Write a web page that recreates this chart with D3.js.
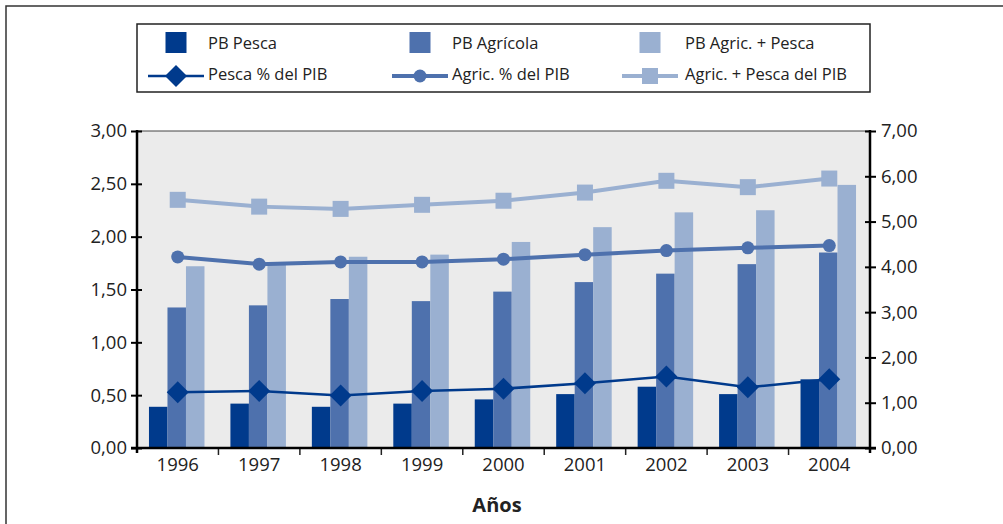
<!DOCTYPE html>
<html><head><meta charset="utf-8">
<script src="https://cdn.jsdelivr.net/npm/d3@7"></script>
<style>
html,body{margin:0;padding:0;background:#fff;}
svg text{font-family:"Open Sans",sans-serif;fill:#222;}
</style></head>
<body>
<script>
const years = ["1996","1997","1998","1999","2000","2001","2002","2003","2004"];
const pbPesca = [0.39,0.42,0.39,0.42,0.46,0.51,0.58,0.51,0.65];
const pbAgricola = [1.33,1.35,1.41,1.39,1.48,1.57,1.65,1.74,1.85];
const pbAgricPesca = [1.72,1.74,1.81,1.83,1.95,2.09,2.23,2.25,2.49];
const pescaPctPIB = [1.23,1.26,1.16,1.26,1.31,1.43,1.58,1.34,1.52];
const agricPctPIB = [4.22,4.06,4.11,4.11,4.17,4.27,4.36,4.42,4.47];
const agricPescaPctPIB = [5.48,5.33,5.28,5.37,5.46,5.64,5.90,5.76,5.95];
const leftTicks = [0,0.5,1,1.5,2,2.5,3];
const rightTicks = [0,1,2,3,4,5,6,7];
const barLabels = ["PB Pesca","PB Agrícola","PB Agric. + Pesca"];
const lineLabels = ["Pesca % del PIB","Agric. % del PIB","Agric. + Pesca del PIB"];
const xTitle = "Años";

const c1 = "#003a8c", c2 = "#4e71ad", c3 = "#9ab0d1";
const W = 1003, H = 524;
const L = 137, R = 870, T = 131, B = 448;

const svg = d3.select("body").append("svg").attr("width", W).attr("height", H);

// outer frame
svg.append("rect").attr("x", 6).attr("y", 6).attr("width", W + 20).attr("height", H + 20)
  .attr("fill", "none").attr("stroke", "#333").attr("stroke-width", 1.5);

const x = d3.scaleBand().domain(years).range([L, R]).paddingInner(0).paddingOuter(0);
const yL = d3.scaleLinear().domain([0, 3]).range([B, T]);
const yR = d3.scaleLinear().domain([0, 7]).range([B, T]);

// plot background
svg.append("rect").attr("x", L).attr("y", T).attr("width", R - L).attr("height", B - T)
  .attr("fill", "#ebebeb");
svg.append("line").attr("x1", L).attr("x2", R).attr("y1", T).attr("y2", T)
  .attr("stroke", "#444").attr("stroke-width", 1);

// bars
const bw = 18.5;
const series = [pbPesca, pbAgricola, pbAgricPesca];
const colors = [c1, c2, c3];
series.forEach((s, si) => {
  svg.append("g").selectAll("rect").data(s).join("rect")
    .attr("x", (d, i) => x(years[i]) + x.bandwidth() / 2 - 1.5 * bw + si * bw - 1)
    .attr("width", bw)
    .attr("y", d => yL(d))
    .attr("height", d => B - yL(d))
    .attr("fill", colors[si]);
});

const cx = i => x(years[i]) + x.bandwidth() / 2;
const lineGen = arr => d3.line().x((d, i) => cx(i)).y(d => yR(d))(arr);

// light square line
svg.append("path").attr("d", lineGen(agricPescaPctPIB)).attr("fill", "none")
  .attr("stroke", c3).attr("stroke-width", 4);
svg.append("g").selectAll("rect").data(agricPescaPctPIB).join("rect")
  .attr("x", (d, i) => cx(i) - 8).attr("y", d => yR(d) - 8)
  .attr("width", 16).attr("height", 16).attr("fill", c3);

// circle line
svg.append("path").attr("d", lineGen(agricPctPIB)).attr("fill", "none")
  .attr("stroke", c2).attr("stroke-width", 4);
svg.append("g").selectAll("circle").data(agricPctPIB).join("circle")
  .attr("cx", (d, i) => cx(i)).attr("cy", d => yR(d)).attr("r", 6.5).attr("fill", c2);

// diamond line
svg.append("path").attr("d", lineGen(pescaPctPIB)).attr("fill", "none")
  .attr("stroke", c1).attr("stroke-width", 2.5);
const dia = (px, py, r) => `M${px},${py - r}L${px + r},${py}L${px},${py + r}L${px - r},${py}Z`;
svg.append("g").selectAll("path").data(pescaPctPIB).join("path")
  .attr("d", (d, i) => dia(cx(i), yR(d), 11)).attr("fill", c1);

// axes
const fmt = d => d3.format(".2f")(d).replace(".", ",");
const axL = svg.append("g").attr("transform", `translate(${L},0)`)
  .call(d3.axisLeft(yL).tickValues(leftTicks).tickSize(6).tickFormat(fmt));
const axR = svg.append("g").attr("transform", `translate(${R},0)`)
  .call(d3.axisRight(yR).tickValues(rightTicks).tickSize(6).tickFormat(fmt));
[axL, axR].forEach(a => {
  a.select(".domain").remove();
  a.selectAll("text").attr("font-size", 18.5).style("font-family", "'Open Sans',sans-serif").attr("fill", "#333");
  a.selectAll(".tick line").attr("stroke", "#000").attr("stroke-width", 2);
});
axL.selectAll(".tick line").attr("x1", 5).attr("x2", -6);
axL.selectAll("text").attr("x", -10);
axR.selectAll(".tick line").attr("x1", -5).attr("x2", 6);
axR.selectAll("text").attr("x", 11);

svg.append("line").attr("x1", L).attr("x2", L).attr("y1", T - 1).attr("y2", B + 5)
  .attr("stroke", "#000").attr("stroke-width", 2.5);
svg.append("line").attr("x1", R).attr("x2", R).attr("y1", T - 1).attr("y2", B + 5)
  .attr("stroke", "#000").attr("stroke-width", 2.5);

// bottom axis
const axB = svg.append("g").attr("transform", `translate(0,${B})`)
  .call(d3.axisBottom(x).tickSize(0).tickPadding(10));
axB.select(".domain").remove();
axB.selectAll("text").attr("font-size", 18.5).style("font-family", "'Open Sans',sans-serif").attr("fill", "#333");
svg.append("g").selectAll("line").data(years.slice(1)).join("line")
  .attr("x1", d => x(d)).attr("x2", d => x(d)).attr("y1", B).attr("y2", B + 7)
  .attr("stroke", "#222").attr("stroke-width", 1.5);
svg.append("line").attr("x1", L - 6).attr("x2", R + 6).attr("y1", B).attr("y2", B)
  .attr("stroke", "#000").attr("stroke-width", 2.5);

svg.append("text").attr("x", 497).attr("y", 512).attr("text-anchor", "middle")
  .attr("font-size", 20).attr("font-weight", "bold").attr("fill", "#111").text(xTitle);

// legend
svg.append("rect").attr("x", 137).attr("y", 24).attr("width", 733).attr("height", 68)
  .attr("fill", "#fff").attr("stroke", "#222").attr("stroke-width", 1.5);
const colX = [176, 420, 650];
const txtX = [208, 452, 685];
barLabels.forEach((t, i) => {
  svg.append("rect").attr("x", colX[i] - 10.5).attr("y", 32).attr("width", 21).attr("height", 21).attr("fill", colors[i]);
  svg.append("text").attr("x", txtX[i]).attr("y", 49).attr("font-size", 16.5).attr("fill", "#333").text(t);
});
lineLabels.forEach((t, i) => {
  const lx = colX[i];
  svg.append("line").attr("x1", lx - 28).attr("x2", lx + 28).attr("y1", 76).attr("y2", 76)
    .attr("stroke", colors[i]).attr("stroke-width", i === 0 ? 2.5 : 4);
  if (i === 0) svg.append("path").attr("d", dia(lx, 76, 11)).attr("fill", c1);
  if (i === 1) svg.append("circle").attr("cx", lx).attr("cy", 76).attr("r", 6.5).attr("fill", c2);
  if (i === 2) svg.append("rect").attr("x", lx - 8).attr("y", 68).attr("width", 16).attr("height", 16).attr("fill", c3);
  svg.append("text").attr("x", txtX[i]).attr("y", 80).attr("font-size", 16.5).attr("fill", "#333").text(t);
});
</script>
</body></html>
